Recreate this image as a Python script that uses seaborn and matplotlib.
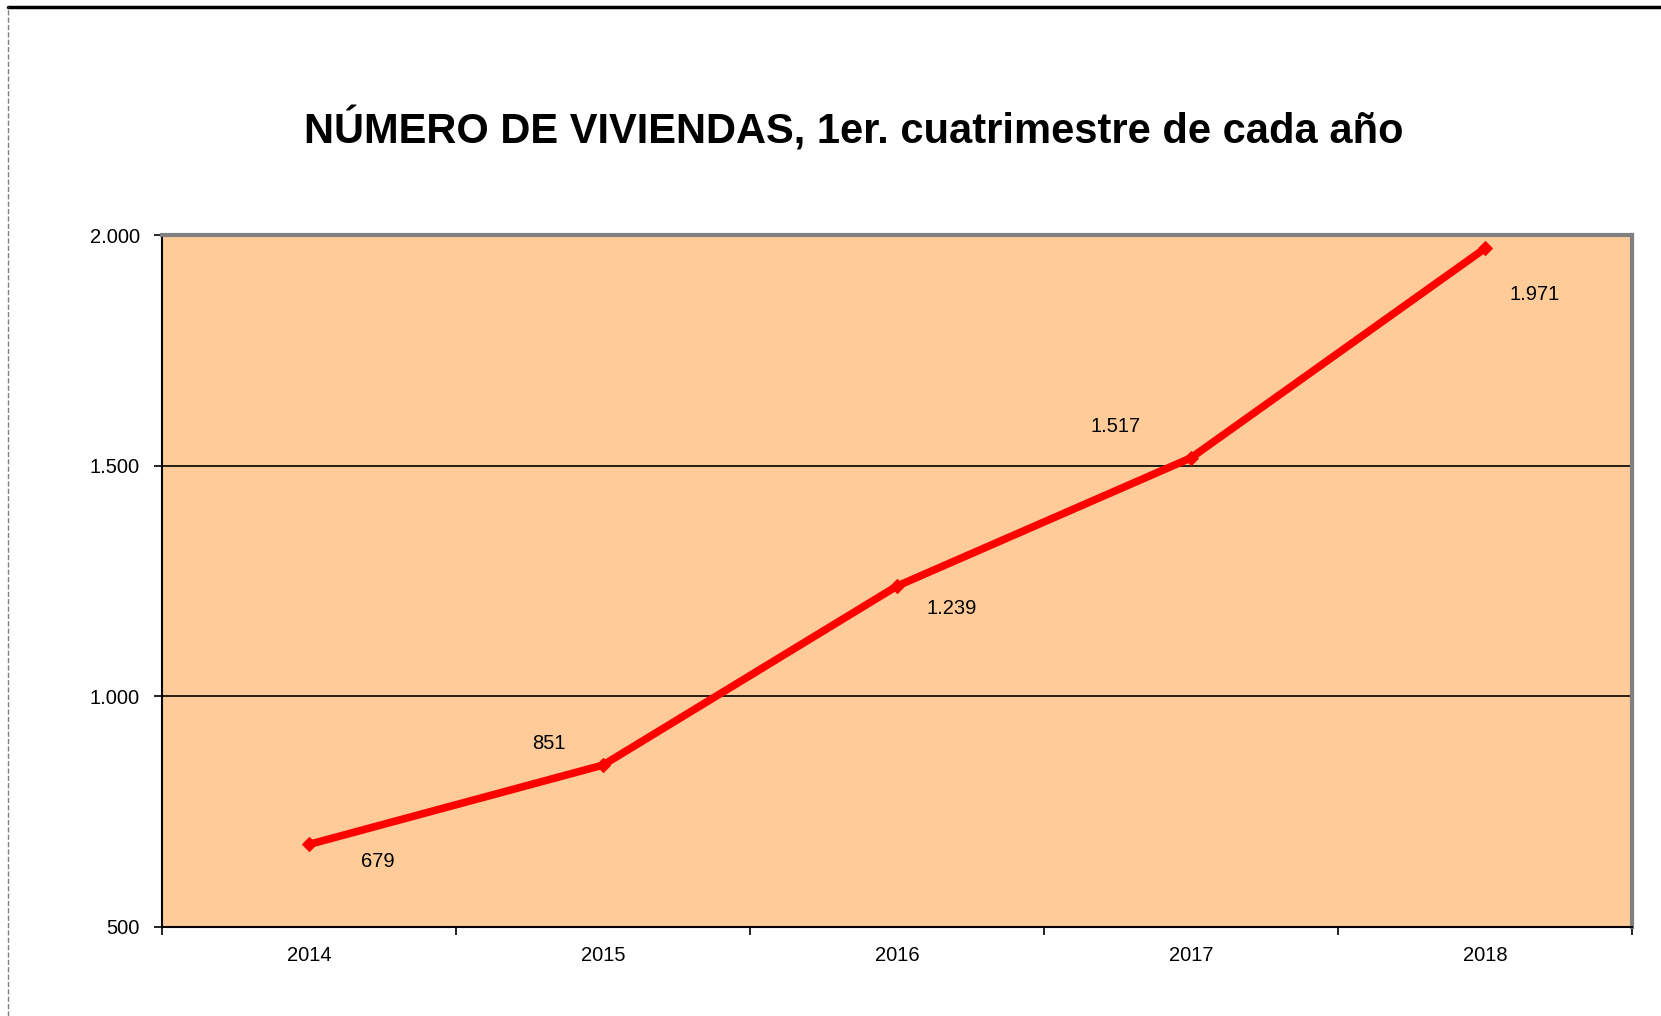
import matplotlib
matplotlib.use('Agg')
import matplotlib.pyplot as plt
import matplotlib.lines as mlines
import seaborn as sns
import pandas as pd
from matplotlib.ticker import FixedLocator, FuncFormatter

years = ['2014', '2015', '2016', '2017', '2018']
viviendas = [679, 851, 1239, 1517, 1971]
# label offsets in pixels (dx, dy), alternating like the original
label_offsets = [(69, -17), (-54, 22), (55, -22), (-75, 31), (50, -46)]

sns.set_theme(style='white')
plt.rcParams['font.family'] = ['Liberation Sans', 'DejaVu Sans']

fig = plt.figure(figsize=(16.61, 10.16), dpi=100)
ax = fig.add_axes([0.0975, 0.0876, 0.885, 0.681])
ax.set_facecolor('#FFCC99')

df = pd.DataFrame({'year': years, 'n': viviendas})
sns.lineplot(data=df, x='year', y='n', ax=ax, color='#FF0000', linewidth=5.5,
             marker='D', markersize=7, markeredgecolor='#FF0000', sort=False)

ax.set_xlim(-0.5, 4.5)
ax.set_ylim(500, 2000)
ax.set_yticks([500, 1000, 1500, 2000])
ax.yaxis.set_major_formatter(FuncFormatter(lambda v, p: f'{int(v):,}'.replace(',', '.')))
ax.grid(axis='y', color='black', linewidth=1.2)
ax.set_axisbelow(True)

ax.xaxis.set_minor_locator(FixedLocator([i - 0.5 for i in range(len(years) + 1)]))
ax.tick_params(axis='x', which='major', length=0, pad=14, labelsize=14.5, colors='black')
ax.tick_params(axis='x', which='minor', length=6, width=1.2, direction='out', color='black', bottom=True)
ax.tick_params(axis='y', which='major', length=6, width=1.2, direction='out', left=True,
               pad=10, labelsize=14.5, colors='black')
ax.set_xlabel('')
ax.set_ylabel('')

for s in ['left', 'bottom']:
    ax.spines[s].set_color('black')
    ax.spines[s].set_linewidth(1.5)
for s in ['top', 'right']:
    ax.spines[s].set_color('#808080')
    ax.spines[s].set_linewidth(3)

for i, (v, off) in enumerate(zip(viviendas, label_offsets)):
    ax.annotate(f'{v:,}'.replace(',', '.'), (i, v), xytext=off, textcoords='offset pixels',
                ha='center', va='center', fontsize=14.5, color='black')

fig.text(0.514, 0.872, 'NÚMERO DE VIVIENDAS, 1er. cuatrimestre de cada año',
         ha='center', va='center', fontsize=30, fontweight='bold', color='black')

# chart frame fragments visible in the original
fig.add_artist(mlines.Line2D([0.005, 1.0], [0.993, 0.993], color='black', linewidth=2.5))
fig.add_artist(mlines.Line2D([0.005, 0.005], [0.0, 0.993], color='#808080', linewidth=1, linestyle='--'))

fig.savefig('out.png', dpi=100)
